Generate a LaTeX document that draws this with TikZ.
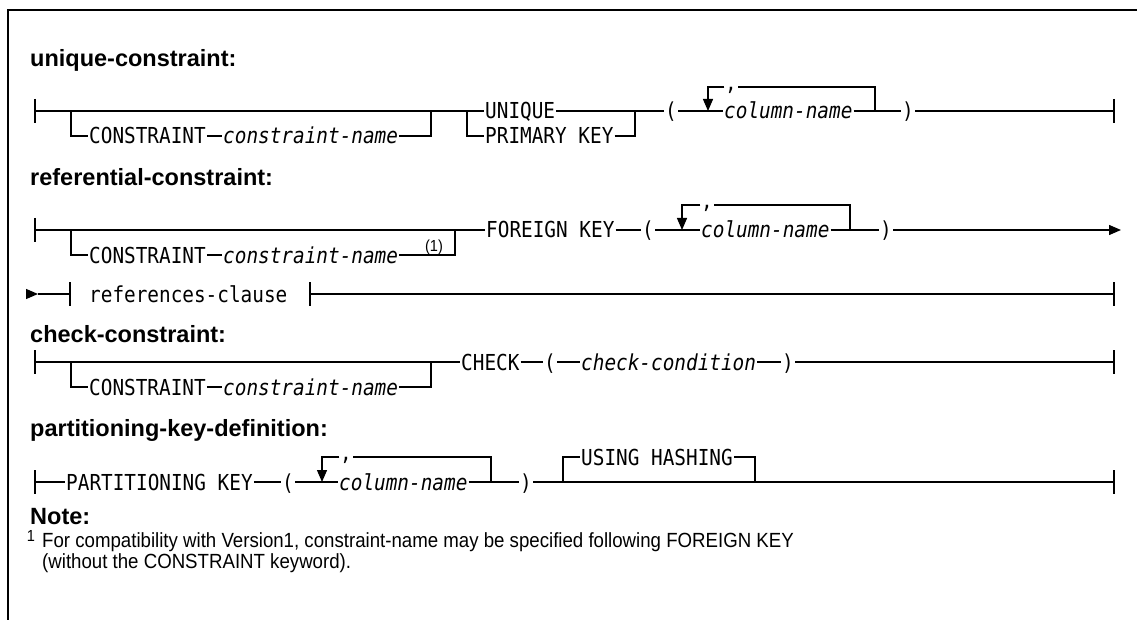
\documentclass[tikz,border=0pt]{standalone}
\usepackage{fontspec}
\setmainfont{Liberation Sans}
\newfontfamily\railfont{DejaVu Sans Mono}[FakeStretch=0.88]
\newfontfamily\notefont{Liberation Sans}[FakeStretch=0.91]
\usetikzlibrary{arrows.meta}
\tikzstyle{rail} = [line width=1.3pt]
\tikzstyle{tick} = [line width=2pt]
\tikzstyle{arrow} = [
    line width=1.3pt,
    -{Triangle[width=10pt,length=12pt]}
]
\tikzstyle{kw} = [
    anchor=west,
    inner xsep=1pt,
    inner ysep=0pt,
    text height=16pt,
    text depth=0pt,
    font=\railfont\fontsize{22}{26}\selectfont
]
\tikzstyle{var} = [
    kw,
    font=\railfont\itshape\fontsize{22}{26}\selectfont
]
\tikzstyle{commanode} = [
    inner sep=0.5pt,
    text height=7pt,
    text depth=0pt,
    font=\railfont\fontsize{22}{26}\selectfont
]
\tikzstyle{heading} = [
    anchor=base west,
    inner sep=0pt,
    font=\bfseries\fontsize{23.5}{28}\selectfont
]
\tikzstyle{note} = [
    anchor=base west,
    inner sep=0pt,
    font=\notefont\fontsize{20.5}{24}\selectfont
]
\tikzstyle{fnmark} = [
    anchor=base,
    inner sep=0pt,
    font=\notefont\fontsize{16}{18}\selectfont
]

\begin{document}
\begin{tikzpicture}[x=1pt, y=-1pt]
\useasboundingbox (0,0) rectangle (1137,620);

\coordinate (frame-bl) at (8,620);
\coordinate (frame-tl) at (8,10);
\coordinate (frame-tr) at (1137,10);
\draw [rail] (frame-bl) -- (frame-tl) -- (frame-tr);

% unique-constraint
\node (u-title) [heading] at (30,67) {unique-constraint:};

\coordinate (u-in) at (35,111);
\coordinate (u-split) at (71,111);
\node (u-cons) [kw] at (88,136) {CONSTRAINT};
\node (u-name) [var] at (222,136) {constraint-name};
\coordinate (u-join) at (431,111);
\coordinate (u-fork) at (467,111);
\node (u-uniq) [kw] at (484,111) {UNIQUE};
\node (u-pk) [kw] at (484,136) {PRIMARY KEY};
\coordinate (u-merge) at (635,111);
\node (u-lp) [kw] at (664,111) {(};
\coordinate (u-back) at (708,111);
\node (u-col) [var] at (723,111) {column-name};
\node (u-comma) [commanode] at (731,87) {,};
\coordinate (u-loop) at (875,111);
\node (u-rp) [kw] at (901,111) {)};
\coordinate (u-out) at (1114,111);

\draw [tick] ([yshift=12pt]u-in) -- ([yshift=-12pt]u-in);
\draw [rail] (u-in) -- (u-uniq);
\draw [rail] (u-split) |- (u-cons.west);
\draw [rail] (u-cons) -- (u-name);
\draw [rail] (u-name.east) -| (u-join);
\draw [rail] (u-fork) |- (u-pk.west);
\draw [rail] (u-uniq.east) -| (u-merge);
\draw [rail] (u-pk.east) -| (u-merge);
\draw [rail] (u-merge) -- (u-lp);
\draw [rail] (u-lp) -- (u-col);
\draw [rail] (u-loop) |- (u-comma);
\draw [arrow] (u-comma) -| (u-back);
\draw [rail] (u-col) -- (u-rp);
\draw [rail] (u-rp) -- (u-out);
\draw [tick] ([yshift=12pt]u-out) -- ([yshift=-12pt]u-out);

% referential-constraint
\node (r-title) [heading] at (30,186) {referential-constraint:};

\coordinate (r-in) at (35,230);
\coordinate (r-split) at (71,230);
\node (r-cons) [kw] at (88,255) {CONSTRAINT};
\node (r-name) [var] at (222,255) {constraint-name};
\node (r-fn) [fnmark] at (434,252) {(1)};
\coordinate (r-join) at (455,230);
\node (r-fk) [kw] at (485,230) {FOREIGN KEY};
\node (r-lp) [kw] at (641,230) {(};
\coordinate (r-back) at (682,230);
\node (r-col) [var] at (700,230) {column-name};
\node (r-comma) [commanode] at (707,205) {,};
\coordinate (r-loop) at (850,230);
\node (r-rp) [kw] at (879,230) {)};
\coordinate (r-next) at (1121,230);

\draw [tick] ([yshift=12pt]r-in) -- ([yshift=-12pt]r-in);
\draw [rail] (r-in) -- (r-fk);
\draw [rail] (r-split) |- (r-cons.west);
\draw [rail] (r-cons) -- (r-name);
\draw [rail] (r-name.east) -| (r-join);
\draw [rail] (r-fk) -- (r-lp);
\draw [rail] (r-lp) -- (r-col);
\draw [rail] (r-loop) |- (r-comma);
\draw [arrow] (r-comma) -| (r-back);
\draw [rail] (r-col) -- (r-rp);
\draw [arrow] (r-rp) -- (r-next);

\coordinate (r-cont) at (26,294);
\coordinate (r-tip) at (38,294);
\coordinate (r-lbar) at (70,294);
\node (r-ref) [kw] at (88,294) {references-clause};
\coordinate (r-rbar) at (310,294);
\coordinate (r-out) at (1114,294);

\draw [arrow] (r-cont) -- (r-tip);
\draw [rail] (r-tip) -- (r-lbar);
\draw [tick] ([yshift=12pt]r-lbar) -- ([yshift=-12pt]r-lbar);
\draw [tick] ([yshift=12pt]r-rbar) -- ([yshift=-12pt]r-rbar);
\draw [rail] (r-rbar) -- (r-out);
\draw [tick] ([yshift=12pt]r-out) -- ([yshift=-12pt]r-out);

% check-constraint
\node (k-title) [heading] at (30,342) {check-constraint:};

\coordinate (k-in) at (35,362);
\coordinate (k-split) at (71,362);
\node (k-cons) [kw] at (88,387) {CONSTRAINT};
\node (k-name) [var] at (222,387) {constraint-name};
\coordinate (k-join) at (431,362);
\node (k-check) [kw] at (460,362) {CHECK};
\node (k-lp) [kw] at (543,362) {(};
\node (k-cond) [var] at (580,362) {check-condition};
\node (k-rp) [kw] at (781,362) {)};
\coordinate (k-out) at (1114,362);

\draw [tick] ([yshift=12pt]k-in) -- ([yshift=-12pt]k-in);
\draw [rail] (k-in) -- (k-check);
\draw [rail] (k-split) |- (k-cons.west);
\draw [rail] (k-cons) -- (k-name);
\draw [rail] (k-name.east) -| (k-join);
\draw [rail] (k-check) -- (k-lp);
\draw [rail] (k-lp) -- (k-cond);
\draw [rail] (k-cond) -- (k-rp);
\draw [rail] (k-rp) -- (k-out);
\draw [tick] ([yshift=12pt]k-out) -- ([yshift=-12pt]k-out);

% partitioning-key-definition
\node (p-title) [heading] at (30,436) {partitioning-key-definition:};

\coordinate (p-in) at (35,482);
\node (p-key) [kw] at (65,482) {PARTITIONING KEY};
\node (p-lp) [kw] at (281,482) {(};
\coordinate (p-back) at (322,482);
\node (p-col) [var] at (338,482) {column-name};
\node (p-comma) [commanode] at (346,457) {,};
\coordinate (p-loop) at (491,482);
\node (p-rp) [kw] at (519,482) {)};
\coordinate (p-fork) at (563,482);
\node (p-hash) [kw] at (580,457) {USING HASHING};
\coordinate (p-merge) at (755,482);
\coordinate (p-out) at (1114,482);

\draw [tick] ([yshift=12pt]p-in) -- ([yshift=-12pt]p-in);
\draw [rail] (p-in) -- (p-key);
\draw [rail] (p-key) -- (p-lp);
\draw [rail] (p-lp) -- (p-col);
\draw [rail] (p-loop) |- (p-comma);
\draw [arrow] (p-comma) -| (p-back);
\draw [rail] (p-col) -- (p-rp);
\draw [rail] (p-rp) -- (p-out);
\draw [rail] (p-fork) |- (p-hash.west);
\draw [rail] (p-hash.east) -| (p-merge);
\draw [tick] ([yshift=12pt]p-out) -- ([yshift=-12pt]p-out);

% note
\node (n-title) [heading] at (30,524) {Note:};
\node (n-mark) [fnmark] at (31,541) {1};
\node (n-line1) [note] at (42,547) {For compatibility with Version1, constraint-name may be specified following FOREIGN KEY};
\node (n-line2) [note] at (42,568) {(without the CONSTRAINT keyword).};

\end{tikzpicture}
\end{document}
